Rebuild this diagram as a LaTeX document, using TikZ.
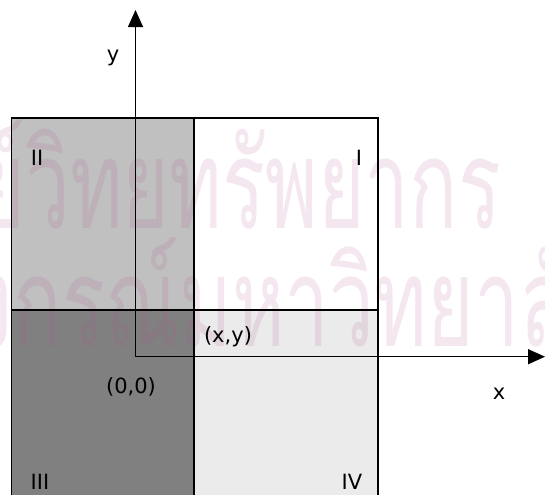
\documentclass[tikz,border=0pt]{standalone}
\usepackage{fontspec}
\usepackage{graphicx}
\setmainfont{DejaVu Sans}
\newfontfamily\thaifont[Script=Thai]{Loma}
\usetikzlibrary{arrows.meta, positioning}
\definecolor{quadII}{RGB}{192,192,192}
\definecolor{quadIII}{RGB}{128,128,128}
\definecolor{quadIV}{RGB}{235,235,235}
\definecolor{wmpink}{RGB}{175,85,145}
\newcommand{\wmtall}[1]{\scalebox{1}[1.55]{#1}}

\begin{document}
\begin{tikzpicture}[x=0.5pt, y=-0.5pt, line width=0.8pt,
    every node/.style={font=\fontsize{10.5}{12}\selectfont, inner sep=0pt},
    axis/.style={line width=0.7pt, -{Triangle[length=8.5pt, width=7.5pt]}},
    wmtext/.style={font=\thaifont\fontsize{40}{48}\selectfont, text=wmpink, text opacity=0.14}]
    \useasboundingbox (0,0) rectangle (545,494);
    % quadrants
    \fill[quadII] (11.5,118) rectangle (194,310);
    \fill[quadIII] (11.5,310) rectangle (194,500);
    \fill[quadIV] (194,310) rectangle (378,500);
    % watermark
    \node[wmtext, anchor=base east] (wm1) at (502,228) {\wmtall{ศูนย์วิทยทรัพยากร}};
    \node[wmtext, anchor=base east] (wm2) at (13,346) {\wmtall{จุฬาลง}};
    \node[wmtext, anchor=base west] (wm3) at (13,346) {\wmtall{กรณ์มหาวิทยาลัย}};
    % frame
    \draw (11.5,500) -- (11.5,118) -- (378,118) -- (378,500);
    \draw (194,118) -- (194,500);
    \draw (11.5,310) -- (378,310);
    % axes
    \coordinate (O) at (135.5,356.7);
    \coordinate (xend) at (545,356.7);
    \coordinate (yend) at (135.5,10);
    \draw[axis] (O) -- (xend);
    \draw[axis] (O) -- (yend);
    % labels
    \node (ylab) at (113,58) {y};
    \node (xlab) at (499,394) {x};
    \node (orig) at (131,387) {(0,0)};
    \node (pt) at (228,337) {(x,y)};
    \node (q1) at (359,158) {I};
    \node (q2) at (37,158) {II};
    \node (q3) at (40,482) {III};
    \node (q4) at (352,482) {IV};
\end{tikzpicture}
\end{document}
